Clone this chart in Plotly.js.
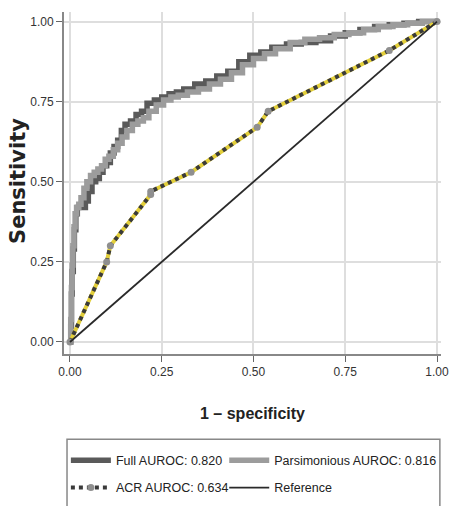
<!DOCTYPE html>
<html>
<head>
<meta charset="utf-8">
<script src="https://cdn.plot.ly/plotly-3.0.1.min.js"></script>
<style>html,body{margin:0;padding:0;background:#fff;}#chart{width:449px;height:506px;}</style>
</head>
<body>
<div id="chart"></div>
<script>
// Full model ROC (1 - specificity, sensitivity)
const fullX = [0, 0.002, 0.004, 0.006, 0.009, 0.012, 0.016, 0.020, 0.026, 0.034, 0.042, 0.050, 0.060, 0.070, 0.080, 0.090, 0.100, 0.110, 0.120, 0.130, 0.140, 0.150, 0.165, 0.180, 0.195, 0.210, 0.230, 0.250, 0.270, 0.290, 0.310, 0.340, 0.370, 0.400, 0.430, 0.460, 0.490, 0.520, 0.550, 0.590, 0.630, 0.670, 0.710, 0.750, 0.790, 0.830, 0.870, 0.910, 0.950, 1.0];
const fullY = [0, 0.05, 0.15, 0.22, 0.29, 0.35, 0.40, 0.42, 0.42, 0.42, 0.44, 0.47, 0.50, 0.51, 0.53, 0.55, 0.56, 0.59, 0.61, 0.63, 0.66, 0.68, 0.69, 0.71, 0.72, 0.745, 0.755, 0.765, 0.775, 0.78, 0.79, 0.805, 0.815, 0.83, 0.845, 0.875, 0.895, 0.905, 0.92, 0.93, 0.935, 0.94, 0.955, 0.965, 0.975, 0.985, 0.99, 0.995, 1.0, 1.0];
// Parsimonious model ROC
const parsX = [0, 0.002, 0.004, 0.006, 0.008, 0.011, 0.014, 0.018, 0.024, 0.030, 0.038, 0.046, 0.056, 0.066, 0.076, 0.086, 0.096, 0.106, 0.118, 0.130, 0.142, 0.155, 0.170, 0.185, 0.200, 0.215, 0.235, 0.255, 0.275, 0.295, 0.320, 0.350, 0.380, 0.410, 0.440, 0.470, 0.500, 0.530, 0.560, 0.600, 0.640, 0.680, 0.720, 0.760, 0.800, 0.840, 0.880, 0.920, 0.960, 1.0];
const parsY = [0, 0.07, 0.17, 0.24, 0.30, 0.36, 0.40, 0.42, 0.43, 0.45, 0.48, 0.50, 0.52, 0.53, 0.54, 0.55, 0.57, 0.58, 0.60, 0.62, 0.64, 0.66, 0.68, 0.69, 0.70, 0.72, 0.74, 0.755, 0.765, 0.77, 0.78, 0.79, 0.805, 0.82, 0.84, 0.865, 0.885, 0.90, 0.915, 0.935, 0.945, 0.95, 0.96, 0.965, 0.975, 0.985, 0.99, 0.995, 1.0, 1.0];
// ACR ROC
const acrX = [0, 0.10, 0.11, 0.22, 0.22, 0.33, 0.51, 0.54, 0.87, 1.0];
const acrY = [0, 0.25, 0.30, 0.46, 0.47, 0.53, 0.67, 0.72, 0.91, 1.0];
// Reference line
const refX = [0, 1];
const refY = [0, 1];

const tickVals = [0, 0.25, 0.5, 0.75, 1];
const tickText = ["0.00", "0.25", "0.50", "0.75", "1.00"];

const names = ["Full AUROC: 0.820", "Parsimonious AUROC: 0.816", "ACR AUROC: 0.634", "Reference"];
const yTitle = "Sensitivity";
const xTitle = "1 – specificity";

const FONT = "'Liberation Sans', Arial, sans-serif";

const traces = [
  {x: fullX, y: fullY, mode: "lines", name: names[0], legend: "legend", legendgroup: "a", legendrank: 1, line: {color: "#5a5a5a", width: 5.5, shape: "hv"}},
  {x: parsX, y: parsY, mode: "lines", name: names[1], legend: "legend2", legendgroup: "b", legendrank: 1, line: {color: "#9c9c9c", width: 5.5, shape: "hv"}},
  {x: acrX, y: acrY, mode: "lines", showlegend: false, hoverinfo: "skip", line: {color: "#e3cf3a", width: 4}},
  {x: acrX, y: acrY, mode: "lines+markers", name: names[2], legend: "legend", legendgroup: "c", legendrank: 2, line: {color: "#3a3a3a", width: 4, dash: "dot"}, marker: {color: "#8f8f8f", size: 7, symbol: "circle"}},
  {x: refX, y: refY, mode: "lines", name: names[3], legend: "legend2", legendgroup: "d", legendrank: 2, line: {color: "#2a2a2a", width: 1.8}}
];

const axisCommon = {
  tickvals: tickVals, ticktext: tickText,
  ticks: "outside", ticklen: 6, tickwidth: 1, tickcolor: "#666",
  showline: true, linecolor: "#888", linewidth: 2,
  showgrid: true, gridcolor: "#dedede", gridwidth: 2,
  zeroline: false, ticklabeloverflow: "allow",
  tickfont: {family: FONT, size: 12, color: "#333"}
};

const legendCommon = {
  orientation: "v", yanchor: "top", y: -0.268,
  borderwidth: 0, bgcolor: "rgba(0,0,0,0)",
  font: {family: FONT, size: 12.5, color: "#222"},
  traceorder: "grouped", tracegroupgap: 8, itemwidth: 40
};

const layout = {
  width: 449, height: 506,
  margin: {l: 64, r: 8, t: 12, b: 152, autoexpand: false},
  paper_bgcolor: "#fff", plot_bgcolor: "#fff",
  showlegend: true,
  xaxis: Object.assign({}, axisCommon, {
    range: [-0.0163, 1.0109],
    automargin: false,
    title: {text: xTitle, font: {family: FONT, size: 16, color: "#222", weight: "bold"}, standoff: 29}
  }),
  yaxis: Object.assign({}, axisCommon, {
    range: [-0.0375, 1.03],
    automargin: false,
    title: {text: ""}
  }),
  annotations: [{
    text: "<b>" + yTitle + "</b>", textangle: -90, showarrow: false,
    xref: "paper", yref: "paper", x: -0.122, y: 0.506, xanchor: "center", yanchor: "middle",
    font: {family: "'DejaVu Sans', Verdana, sans-serif", size: 21, color: "#222"}
  }],
  legend: Object.assign({}, legendCommon, {x: 0.005, xanchor: "left"}),
  legend2: Object.assign({}, legendCommon, {x: 0.425, xanchor: "left"}),
  shapes: [{
    type: "rect", xref: "paper", yref: "paper",
    x0: 0.008, x1: 0.997, y0: -0.47, y1: -0.249,
    line: {color: "#888", width: 1.5}, fillcolor: "rgba(0,0,0,0)", layer: "below"
  }],
  font: {family: FONT}
};

Plotly.newPlot("chart", traces, layout, {displayModeBar: false, staticPlot: true});
</script>
</body>
</html>
